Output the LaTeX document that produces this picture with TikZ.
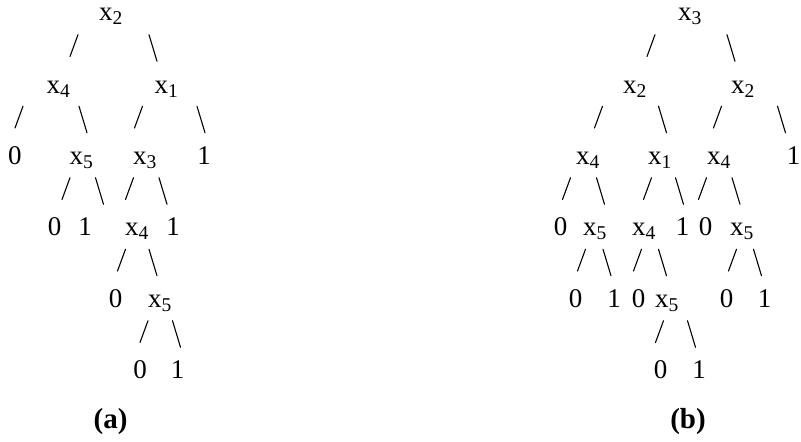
\documentclass[tikz,border=0pt]{standalone}
\usepackage{fontspec}
\setmainfont{Liberation Serif}
\usepackage{tikz}
\newcommand{\treefont}{\fontsize{27}{32}\selectfont}
\newcommand{\xs}[1]{x\raisebox{-4.5pt}{\fontsize{19.5}{20}\selectfont #1}}
\tikzset{
  var/.style={inner sep=0pt, anchor=base west, font=\treefont},
  leaf/.style={inner sep=0pt, anchor=base, font=\treefont},
  caption/.style={inner sep=0pt, anchor=base, font=\fontsize{29}{34}\selectfont\bfseries},
  slash/.style={line width=1.1pt, line cap=round, black}
}
\begin{document}
\begin{tikzpicture}[x=1pt,y=-1pt]
  \useasboundingbox (0,0) rectangle (801,442);

  % tree (a)
  \node[var] (a) at (99,20) {\xs{2}};
  \node[var] (aL) at (46.5,93) {\xs{4}};
  \node[var] (aR) at (154.5,93) {\xs{1}};
  \node[leaf] (aLL) at (15,164) {0};
  \node[var] (aLR) at (69.5,164) {\xs{5}};
  \node[var] (aRL) at (133,164) {\xs{3}};
  \node[leaf] (aRR) at (204,164) {1};
  \node[leaf] (aLRL) at (54.5,235) {0};
  \node[leaf] (aLRR) at (85,235) {1};
  \node[var] (aRLL) at (125,235) {\xs{4}};
  \node[leaf] (aRLR) at (173,235) {1};
  \node[leaf] (aRLLL) at (115.5,307) {0};
  \node[var] (aRLLR) at (148,307) {\xs{5}};
  \node[leaf] (aRLLRL) at (140,378) {0};
  \node[leaf] (aRLLRR) at (177.5,378) {1};
  \node[caption] (capa) at (110.5,428) {(a)};

  % tree (b)
  \node[var] (b) at (678,20) {\xs{3}};
  \node[var] (bL) at (623,93) {\xs{2}};
  \node[var] (bR) at (731,93) {\xs{2}};
  \node[var] (bLL) at (576,164) {\xs{4}};
  \node[var] (bLR) at (648,164) {\xs{1}};
  \node[var] (bRL) at (707,164) {\xs{4}};
  \node[leaf] (bRR) at (793.5,164) {1};
  \node[leaf] (bLLL) at (560.5,235) {0};
  \node[var] (bLLR) at (583,235) {\xs{5}};
  \node[var] (bLRL) at (632,235) {\xs{4}};
  \node[leaf] (bLRR) at (682.5,235) {1};
  \node[leaf] (bRLL) at (705.5,235) {0};
  \node[var] (bRLR) at (730,235) {\xs{5}};
  \node[leaf] (bLLRL) at (575.5,307) {0};
  \node[leaf] (bLLRR) at (614,307) {1};
  \node[leaf] (bLRLL) at (638.5,307) {0};
  \node[var] (bLRLR) at (655,307) {\xs{5}};
  \node[leaf] (bRLRL) at (726.5,307) {0};
  \node[leaf] (bRLRR) at (764.5,307) {1};
  \node[leaf] (bLRLRL) at (660.5,378) {0};
  \node[leaf] (bLRLRR) at (699,378) {1};
  \node[caption] (capb) at (688,428) {(b)};

  % left branches  /
  \foreach \cx/\by in {74/56.5, 19/128, 138.5/128, 66/199.5, 129.5/199.5,
      121.5/271, 144/342.5,
      651/56.5, 598.5/128, 717.5/128, 566.5/199.5, 647.5/199.5, 702.5/199.5,
      581.5/271, 637.5/271, 732.5/271, 659.5/342.5}
    \draw[slash] (\cx+4,\by-21.8) -- (\cx-4,\by);
  % right branches  \
  \foreach \cx/\by in {153/56.5, 83/128, 201/128, 99.5/199.5, 163/199.5,
      153/271, 176.5/342.5,
      731/56.5, 662.5/128, 781.5/128, 600.5/199.5, 679.5/199.5, 736/199.5,
      607/271, 662.5/271, 757.5/271, 691.5/342.5}
    \draw[slash] (\cx-4,\by-21.8) -- (\cx+4,\by+4.8);
\end{tikzpicture}
\end{document}
